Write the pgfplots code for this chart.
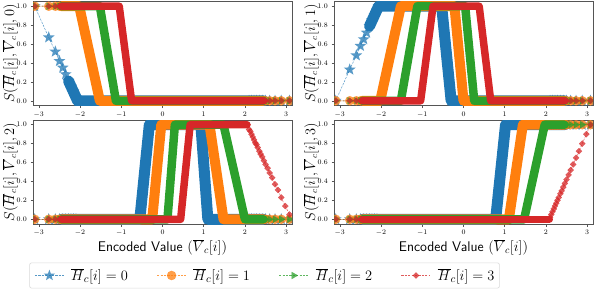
\documentclass[border=0pt]{standalone}
\usepackage{pgfplots}
\pgfplotsset{compat=1.18}
\usetikzlibrary{plotmarks}
\definecolor{cB}{HTML}{1F77B4}
\definecolor{cO}{HTML}{FF7F0E}
\definecolor{cG}{HTML}{2CA02C}
\definecolor{cR}{HTML}{D62728}
\definecolor{spine}{HTML}{555555}
\newcommand\lbl{\fontsize{13.5}{16}\selectfont}
\newcommand\xlbl{\fontsize{14}{16}\selectfont}
\newcommand\lgd{\fontsize{15}{17}\selectfont}
\pgfdeclareplotmark{fstar}{%
  \pgfpathmoveto{\pgfpointpolar{90}{\pgfplotmarksize}}%
  \pgfpathlineto{\pgfpointpolar{126}{0.42*\pgfplotmarksize}}%
  \pgfpathlineto{\pgfpointpolar{162}{\pgfplotmarksize}}%
  \pgfpathlineto{\pgfpointpolar{198}{0.42*\pgfplotmarksize}}%
  \pgfpathlineto{\pgfpointpolar{234}{\pgfplotmarksize}}%
  \pgfpathlineto{\pgfpointpolar{270}{0.42*\pgfplotmarksize}}%
  \pgfpathlineto{\pgfpointpolar{306}{\pgfplotmarksize}}%
  \pgfpathlineto{\pgfpointpolar{342}{0.42*\pgfplotmarksize}}%
  \pgfpathlineto{\pgfpointpolar{18}{\pgfplotmarksize}}%
  \pgfpathlineto{\pgfpointpolar{54}{0.42*\pgfplotmarksize}}%
  \pgfpathclose
  \pgfusepathqfill
}
\pgfplotsset{
  panel/.style={
    scale only axis, width=259pt, height=104pt,
    xmin=-3.14159, xmax=3.14159, ymin=-0.05, ymax=1.05,
    xtick={-3,-2,-1,0,1,2,3},
    ytick={0,0.2,0.4,0.6,0.8,1.0},
    yticklabel style={/pgf/number format/fixed, /pgf/number format/fixed zerofill, /pgf/number format/precision=1},
    tick align=outside, xtick pos=bottom, ytick pos=left,
    major tick length=2.5pt,
    tick style={spine, line width=0.5pt},
    axis line style={spine, line width=0.6pt},
    tick label style={font=\fontsize{6.8}{8}\selectfont},
    every axis y label/.style={at={(axis description cs:-0.089,0.5)}, rotate=90, anchor=center, font=\lbl},
    every axis x label/.style={at={(axis description cs:0.5,-0.225)}, anchor=center, font=\xlbl},
    clip marker paths=true,
  },
  bnd/.style={line width=#1, line join=round, line cap=round, no markers, forget plot},
  bB/.style={bnd=11pt, draw=cB},
  bO/.style={bnd=10pt, draw=cO},
  bG/.style={bnd=8.5pt, draw=cG},
  bR/.style={bnd=7.5pt, draw=cR},
  sB/.style={draw=cB, draw opacity=0.75, line width=0.5pt, dash pattern=on 2.2pt off 1.2pt, mark=fstar, mark size=6.2pt, mark options={solid, fill=cB, draw=cB, fill opacity=0.75, draw opacity=0.75, line width=0.1pt}},
  sO/.style={draw=cO, draw opacity=0.75, line width=0.5pt, dash pattern=on 2.2pt off 1.2pt, mark=*, mark size=4.6pt, mark options={solid, fill=cO, draw=cO, fill opacity=0.75, draw opacity=0.75, line width=0.1pt}},
  sG/.style={draw=cG, draw opacity=0.75, line width=0.5pt, dash pattern=on 2.2pt off 1.2pt, mark=triangle*, mark size=4pt, mark options={solid, rotate=-90, fill=cG, draw=cG, fill opacity=0.75, draw opacity=0.75, line width=0.1pt}},
  sR/.style={draw=cR, draw opacity=0.75, line width=0.5pt, dash pattern=on 2.2pt off 1.2pt, mark=square*, mark size=2.2pt, mark options={solid, rotate=45, fill=cR, draw=cR, fill opacity=0.75, draw opacity=0.75, line width=0.1pt}},
}
\begin{document}
\begin{tikzpicture}
% ---------------- top left: v = 0
\begin{axis}[panel, at={(33pt,-105.5pt)}, anchor=south west, xticklabel={},
  ylabel={\lbl $S(\overline{H}_c[i], \overline{V}_c[i], 0)$}]
\addplot[bB] coordinates {(-2.28,0.21)(-2.06,0)(2.45,0)};
\addplot[sB, forget plot] coordinates {(-3.10,1.00)(-2.76,0.67)(-2.60,0.52)(-2.50,0.42)(-2.42,0.35)(-2.35,0.28)(-2.28,0.21)(-2.22,0.15)(-2.16,0.10)(-2.10,0.04)(-2.06,0)(2.10,0)(2.16,0)(2.22,0)(2.28,0)(2.35,0)(2.42,0)(2.50,0)(2.60,0)(2.73,0)(2.88,0)(3.08,0)};
\addplot[bO] coordinates {(-2.45,1)(-2.02,1)(-1.52,0)(2.45,0)};
\addplot[sO, forget plot] coordinates {(-3.10,1)(-2.76,1)(-2.60,1)(-2.50,1)(-2.42,1)(-2.35,1)(-2.28,1)(-2.22,1)(-2.16,1)(-2.10,1)(-2.02,1)(-1.52,0)(2.10,0)(2.16,0)(2.22,0)(2.28,0)(2.35,0)(2.42,0)(2.50,0)(2.60,0)(2.73,0)(2.88,0)(3.08,0)};
\addplot[bG] coordinates {(-2.45,1)(-1.52,1)(-1.13,0)(2.45,0)};
\addplot[sG, forget plot] coordinates {(-3.10,1)(-2.76,1)(-2.60,1)(-2.50,1)(-2.42,1)(-2.35,1)(-2.28,1)(-2.22,1)(-2.16,1)(-2.10,1)(-1.52,1)(-1.13,0)(2.10,0)(2.16,0)(2.22,0)(2.28,0)(2.35,0)(2.42,0)(2.50,0)(2.60,0)(2.73,0)(2.88,0)(3.08,0)};
\addplot[bR] coordinates {(-2.45,1)(-1.05,1)(-0.75,0)(2.45,0)};
\addplot[sR, forget plot] coordinates {(-3.10,1)(-2.76,1)(-2.60,1)(-2.50,1)(-2.42,1)(-2.35,1)(-2.28,1)(-2.22,1)(-2.16,1)(-2.10,1)(-1.05,1)(-0.75,0)(2.10,0)(2.16,0)(2.22,0)(2.28,0)(2.35,0)(2.42,0)(2.50,0)(2.60,0)(2.73,0)(2.88,0)(3.08,0)};
\end{axis}
% ---------------- top right: v = 1
\begin{axis}[panel, at={(334pt,-105.5pt)}, anchor=south west, xticklabel={},
  ylabel={\lbl $S(\overline{H}_c[i], \overline{V}_c[i], 1)$}]
\addplot[bB] coordinates {(-2.28,0.79)(-2.06,1)(-0.53,1)(-0.30,0)(2.45,0)};
\addplot[sB, forget plot] coordinates {(-3.10,0)(-2.76,0.33)(-2.60,0.48)(-2.50,0.58)(-2.42,0.65)(-2.35,0.72)(-2.28,0.79)(-2.22,0.85)(-2.16,0.90)(-2.10,0.96)(-2.06,1)(-0.53,1)(-0.30,0)(2.10,0)(2.16,0)(2.22,0)(2.28,0)(2.35,0)(2.42,0)(2.50,0)(2.60,0)(2.73,0)(2.88,0)(3.08,0)};
\addplot[bO] coordinates {(-2.45,0)(-2.02,0)(-1.52,1)(-0.22,1)(0.00,0)(2.45,0)};
\addplot[sO, forget plot] coordinates {(-3.10,0)(-2.76,0)(-2.60,0)(-2.50,0)(-2.42,0)(-2.35,0)(-2.28,0)(-2.22,0)(-2.16,0)(-2.10,0)(-2.02,0)(-1.52,1)(-0.22,1)(0.00,0)(2.10,0)(2.16,0)(2.22,0)(2.28,0)(2.35,0)(2.42,0)(2.50,0)(2.60,0)(2.73,0)(2.88,0)(3.08,0)};
\addplot[bG] coordinates {(-2.45,0)(-1.52,0)(-1.12,1)(0.04,1)(0.26,0)(2.45,0)};
\addplot[sG, forget plot] coordinates {(-3.10,0)(-2.76,0)(-2.60,0)(-2.50,0)(-2.42,0)(-2.35,0)(-2.28,0)(-2.22,0)(-2.16,0)(-2.10,0)(-1.52,0)(-1.12,1)(0.04,1)(0.26,0)(2.10,0)(2.16,0)(2.22,0)(2.28,0)(2.35,0)(2.42,0)(2.50,0)(2.60,0)(2.73,0)(2.88,0)(3.08,0)};
\addplot[bR] coordinates {(-2.45,0)(-1.04,0)(-0.74,1)(0.38,1)(0.66,0)(2.45,0)};
\addplot[sR, forget plot] coordinates {(-3.10,0)(-2.76,0)(-2.60,0)(-2.50,0)(-2.42,0)(-2.35,0)(-2.28,0)(-2.22,0)(-2.16,0)(-2.10,0)(-1.04,0)(-0.74,1)(0.38,1)(0.66,0)(2.10,0)(2.16,0)(2.22,0)(2.28,0)(2.35,0)(2.42,0)(2.50,0)(2.60,0)(2.73,0)(2.88,0)(3.08,0)};
\end{axis}
% ---------------- bottom left: v = 2
\begin{axis}[panel, at={(33pt,-224pt)}, anchor=south west,
  xlabel={\xlbl\textsf{Encoded Value} $(\overline{V}_c[i])$},
  ylabel={\lbl $S(\overline{H}_c[i], \overline{V}_c[i], 2)$},
  legend columns=4,
  legend image code/.code={\draw[mark repeat=2,mark phase=2,#1] plot coordinates {(0pt,0pt) (14.5pt,0pt) (29pt,0pt)};},
  legend style={at={(axis description cs:0.894,-0.495)}, anchor=center, draw=black!15, line width=0.6pt, rounded corners=2pt, fill=white,
    font=\lgd, inner xsep=5pt, inner ysep=6pt,
    nodes={inner sep=0pt, font=\lgd},
    /tikz/every odd column/.append style={column sep=7pt},
    /tikz/every even column/.append style={column sep=29pt}}]
\addplot[bB] coordinates {(-2.45,0)(-0.55,0)(-0.32,1)(0.93,1)(1.10,0)(2.45,0)};
\addplot[sB, forget plot] coordinates {(-3.10,0)(-2.76,0)(-2.60,0)(-2.50,0)(-2.42,0)(-2.35,0)(-2.28,0)(-2.22,0)(-2.16,0)(-2.10,0)(-0.55,0)(-0.32,1)(0.93,1)(1.10,0)(2.10,0)(2.16,0)(2.22,0)(2.28,0)(2.35,0)(2.42,0)(2.50,0)(2.60,0)(2.73,0)(2.88,0)(3.08,0)};
\addplot[bO] coordinates {(-2.45,0)(-0.25,0)(-0.03,1)(1.14,1)(1.48,0)(2.45,0)};
\addplot[sO, forget plot] coordinates {(-3.10,0)(-2.76,0)(-2.60,0)(-2.50,0)(-2.42,0)(-2.35,0)(-2.28,0)(-2.22,0)(-2.16,0)(-2.10,0)(-0.25,0)(-0.03,1)(1.14,1)(1.48,0)(2.10,0)(2.16,0)(2.22,0)(2.28,0)(2.35,0)(2.42,0)(2.50,0)(2.60,0)(2.73,0)(2.88,0)(3.08,0)};
\addplot[bG] coordinates {(-2.45,0)(0.12,0)(0.30,1)(1.48,1)(2.00,0)(2.45,0)};
\addplot[sG, forget plot] coordinates {(-3.10,0)(-2.76,0)(-2.60,0)(-2.50,0)(-2.42,0)(-2.35,0)(-2.28,0)(-2.22,0)(-2.16,0)(-2.10,0)(0.12,0)(0.30,1)(1.48,1)(1.52,0.92)(1.56,0.85)(1.60,0.77)(1.64,0.69)(1.68,0.62)(1.72,0.54)(1.76,0.46)(1.80,0.38)(1.84,0.31)(1.88,0.23)(1.92,0.15)(1.96,0.08)(2.00,0)(2.10,0)(2.16,0)(2.22,0)(2.28,0)(2.35,0)(2.42,0)(2.50,0)(2.60,0)(2.73,0)(2.88,0)(3.08,0)};
\addplot[bR] coordinates {(-2.45,0)(0.44,0)(0.67,1)(2.05,1)};
\addplot[sR, forget plot] coordinates {(-3.10,0)(-2.76,0)(-2.60,0)(-2.50,0)(-2.42,0)(-2.35,0)(-2.28,0)(-2.22,0)(-2.16,0)(-2.10,0)(0.44,0)(0.67,1)(2.05,1)(2.10,0.95)(2.13,0.93)(2.16,0.90)(2.19,0.87)(2.22,0.84)(2.25,0.81)(2.28,0.79)(2.31,0.76)(2.35,0.72)(2.38,0.69)(2.42,0.66)(2.46,0.62)(2.50,0.58)(2.55,0.54)(2.60,0.49)(2.66,0.44)(2.73,0.37)(2.80,0.31)(2.88,0.23)(2.98,0.14)(3.08,0.05)};
\addlegendimage{sB, mark size=5.8pt}\addlegendentry{\lgd $\overline{H}_c[i] = 0$}
\addlegendimage{sO}\addlegendentry{\lgd $\overline{H}_c[i] = 1$}
\addlegendimage{sG}\addlegendentry{\lgd $\overline{H}_c[i] = 2$}
\addlegendimage{sR}\addlegendentry{\lgd $\overline{H}_c[i] = 3$}
\end{axis}
% ---------------- bottom right: v = 3
\begin{axis}[panel, at={(334pt,-224pt)}, anchor=south west,
  xlabel={\xlbl\textsf{Encoded Value} $(\overline{V}_c[i])$},
  ylabel={\lbl $S(\overline{H}_c[i], \overline{V}_c[i], 3)$}]
\addplot[bB] coordinates {(-2.45,0)(0.78,0)(1.02,1)(2.45,1)};
\addplot[sB, forget plot] coordinates {(-3.10,0)(-2.76,0)(-2.60,0)(-2.50,0)(-2.42,0)(-2.35,0)(-2.28,0)(-2.22,0)(-2.16,0)(-2.10,0)(0.78,0)(1.02,1)(2.10,1)(2.16,1)(2.22,1)(2.28,1)(2.35,1)(2.42,1)(2.50,1)(2.60,1)(2.73,1)(2.88,1)(3.08,1)};
\addplot[bO] coordinates {(-2.45,0)(1.10,0)(1.44,1)(2.45,1)};
\addplot[sO, forget plot] coordinates {(-3.10,0)(-2.76,0)(-2.60,0)(-2.50,0)(-2.42,0)(-2.35,0)(-2.28,0)(-2.22,0)(-2.16,0)(-2.10,0)(1.10,0)(1.44,1)(2.10,1)(2.16,1)(2.22,1)(2.28,1)(2.35,1)(2.42,1)(2.50,1)(2.60,1)(2.73,1)(2.88,1)(3.08,1)};
\addplot[bG] coordinates {(-2.45,0)(1.47,0)(1.97,1)(2.45,1)};
\addplot[sG, forget plot] coordinates {(-3.10,0)(-2.76,0)(-2.60,0)(-2.50,0)(-2.42,0)(-2.35,0)(-2.28,0)(-2.22,0)(-2.16,0)(-2.10,0)(1.47,0)(1.51,0.08)(1.55,0.16)(1.59,0.24)(1.63,0.32)(1.67,0.40)(1.71,0.48)(1.75,0.56)(1.79,0.64)(1.83,0.72)(1.87,0.80)(1.91,0.88)(1.95,0.96)(1.97,1)(2.10,1)(2.16,1)(2.22,1)(2.28,1)(2.35,1)(2.42,1)(2.50,1)(2.60,1)(2.73,1)(2.88,1)(3.08,1)};
\addplot[bR] coordinates {(-2.45,0)(2.08,0)};
\addplot[sR, forget plot] coordinates {(-3.10,0)(-2.76,0)(-2.60,0)(-2.50,0)(-2.42,0)(-2.35,0)(-2.28,0)(-2.22,0)(-2.16,0)(-2.10,0)(2.08,0)(2.10,0.02)(2.13,0.05)(2.16,0.08)(2.19,0.11)(2.22,0.14)(2.25,0.17)(2.28,0.20)(2.31,0.23)(2.35,0.27)(2.38,0.30)(2.42,0.34)(2.46,0.38)(2.50,0.42)(2.55,0.47)(2.60,0.52)(2.66,0.58)(2.73,0.65)(2.80,0.72)(2.88,0.80)(2.98,0.90)(3.08,1.00)};
\end{axis}
\pgfresetboundingbox
\path (0pt,0pt) rectangle (597pt,-292pt);
\end{tikzpicture}
\end{document}
